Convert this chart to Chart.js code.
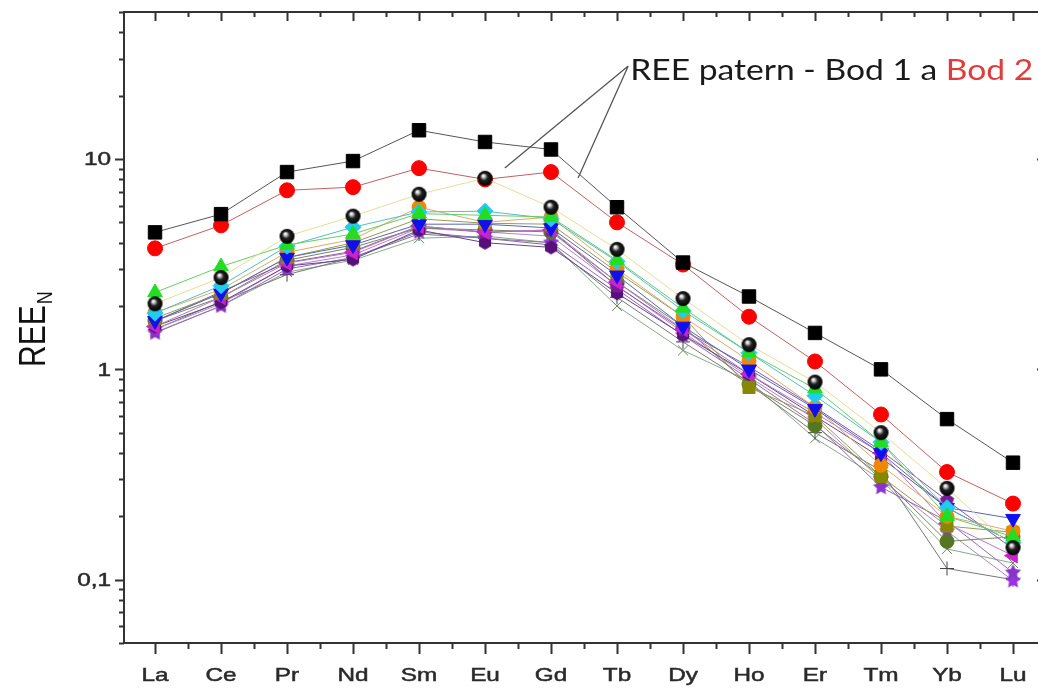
<!DOCTYPE html>
<html>
<head>
<meta charset="utf-8">
<script src="https://cdn.jsdelivr.net/npm/chart.js@4.4.1/dist/chart.umd.min.js"></script>
<style>
  html, body { margin: 0; padding: 0; background: #fff; overflow: hidden; }
  #wrap { position: relative; width: 1060px; height: 688px; }
</style>
</head>
<body>
<div id="wrap"><canvas id="ree" width="1060" height="688"></canvas></div>
<script>
// chondrite-normalised REE, one array per sample
const elements = ['La', 'Ce', 'Pr', 'Nd', 'Sm', 'Eu', 'Gd', 'Tb', 'Dy', 'Ho', 'Er', 'Tm', 'Yb', 'Lu'];
const yTickValues = [0.1, 1, 10];
const yTickLabels = ['0,1', '1', '10'];

const blackSquare    = [4.48, 5.47, 8.67, 9.78, 13.7, 12.05, 11.1, 5.9, 3.22, 2.22, 1.49, 1.0, 0.58, 0.36];
const redCircle      = [3.76, 4.84, 7.1, 7.35, 9.05, 8.0, 8.67, 5.0, 3.15, 1.78, 1.09, 0.61, 0.325, 0.23];
const darkBall       = [2.05, 2.73, 4.29, 5.35, 6.8, 8.1, 5.9, 3.72, 2.17, 1.31, 0.87, 0.5, 0.272, 0.142];
const greenUp        = [2.32, 3.08, 3.9, 4.4, 5.5, 5.4, 5.3, 3.3, 1.96, 1.2, 0.81, 0.45, 0.2, 0.16];
const cyanDiamond    = [1.85, 2.5, 3.85, 4.74, 5.6, 5.65, 5.2, 3.26, 1.9, 1.2, 0.75, 0.45, 0.22, 0.15];
const blueDown       = [1.7, 2.3, 3.4, 3.9, 4.9, 4.9, 4.7, 2.8, 1.6, 1.0, 0.65, 0.4, 0.22, 0.195];
const orangeCircle   = [1.86, 2.4, 3.6, 4.15, 5.9, 5.0, 5.3, 3.0, 1.78, 1.1, 0.66, 0.35, 0.2, 0.17];
const oliveSquare    = [1.75, 2.3, 3.4, 4.0, 5.2, 4.95, 4.9, 2.9, 1.78, 0.82, 0.6, 0.31, 0.18, 0.168];
const magentaLeft    = [1.6, 2.2, 3.2, 3.6, 4.8, 4.5, 4.6, 2.6, 1.55, 0.95, 0.62, 0.4, 0.185, 0.13];
const purplePentagon = [1.69, 2.34, 3.22, 3.64, 4.8, 4.48, 4.6, 2.48, 1.54, 1.03, 0.66, 0.41, 0.238, 0.14];
const violetHexagon  = [1.6, 2.08, 3.1, 3.33, 4.6, 4.0, 3.8, 2.3, 1.46, 0.95, 0.6, 0.38, 0.22, 0.15];
const greenCircle    = [1.7, 2.2, 3.3, 3.8, 4.7, 4.6, 4.5, 2.6, 1.6, 0.85, 0.54, 0.31, 0.152, 0.16];
const purpleStarA    = [1.49, 2.0, 3.0, 3.4, 4.5, 4.2, 4.0, 2.4, 1.45, 0.9, 0.55, 0.275, 0.19, 0.108];
const purpleStarB    = [1.55, 2.05, 3.1, 3.5, 4.7, 4.5, 4.3, 2.5, 1.5, 0.92, 0.58, 0.3, 0.17, 0.099];
const grayPlus       = [1.55, 2.1, 2.82, 3.4, 4.4, 4.2, 3.9, 2.2, 1.35, 0.85, 0.5, 0.33, 0.113, 0.1];
const grayX          = [1.5, 2.0, 2.9, 3.3, 4.2, 4.3, 4.0, 2.0, 1.23, 0.88, 0.47, 0.3, 0.14, 0.12];

// little bitmaps for the markers Chart.js has no shape for
function marker(shape, color, d) {
    const c = document.createElement('canvas');
    c.width = c.height = d + 2;
    const g = c.getContext('2d');
    const cx = (d + 2) / 2, r = d / 2;
    g.fillStyle = color;
    g.beginPath();
    if (shape === 'ball') {
        const grad = g.createRadialGradient(cx - r * 0.25, cx - r * 0.35, 0.5, cx, cx, r);
        grad.addColorStop(0, '#ffffff');
        grad.addColorStop(0.18, '#bbbbbb');
        grad.addColorStop(0.45, '#222222');
        grad.addColorStop(1, '#000000');
        g.fillStyle = grad;
        g.arc(cx, cx, r, 0, Math.PI * 2);
    } else if (shape === 'star') {
        for (let i = 0; i < 10; i++) {
            const a = -Math.PI / 2 + i * Math.PI / 5;
            const rr = i % 2 ? r * 0.5 : r;
            g.lineTo(cx + rr * Math.cos(a), cx + rr * Math.sin(a));
        }
    } else {
        const n = shape === 'pentagon' ? 5 : 6;
        for (let i = 0; i < n; i++) {
            const a = -Math.PI / 2 + i * 2 * Math.PI / n;
            g.lineTo(cx + r * Math.cos(a), cx + r * Math.sin(a));
        }
    }
    g.closePath();
    g.fill();
    return c;
}

const series = [
    { data: blackSquare,    color: '#000000', line: '#555555', style: 'rect', r: 9.5 },
    { data: darkBall,       color: '#000000', line: '#e8dc9a', style: marker('ball', '#000', 15) },
    { data: redCircle,      color: '#ff0000', line: '#c06060', style: 'circle', r: 7.5 },
    { data: greenUp,        color: '#22dd22', line: '#66cc66', style: 'triangle', r: 8.5 },
    { data: cyanDiamond,    color: '#22ccee', line: '#55bbcc', style: 'rectRot', r: 8 },
    { data: blueDown,       color: '#1010ee', line: '#5566bb', style: 'triangle', r: 8.5, rot: 180 },
    { data: orangeCircle,   color: '#ee8800', line: '#ddaa66', style: 'circle', r: 7 },
    { data: oliveSquare,    color: '#888800', line: '#999955', style: 'rect', r: 8.5 },
    { data: magentaLeft,    color: '#cc22cc', line: '#bb77bb', style: 'triangle', r: 8.5, rot: 270 },
    { data: purplePentagon, color: '#7a1a9a', line: '#8855aa', style: marker('pentagon', '#7a1a9a', 15) },
    { data: violetHexagon,  color: '#551177', line: '#664488', style: marker('hexagon', '#551177', 14) },
    { data: greenCircle,    color: '#557722', line: '#778855', style: 'circle', r: 7 },
    { data: purpleStarA,    color: '#8833cc', line: '#9966bb', style: marker('star', '#8833cc', 17) },
    { data: purpleStarB,    color: '#9933dd', line: '#aa88cc', style: marker('star', '#9933dd', 17) },
    { data: grayPlus,       color: '#444444', line: '#777777', style: 'cross', r: 7 },
    { data: grayX,          color: '#668866', line: '#88aa88', style: 'crossRot', r: 7 }
];

const datasets = series.map(s => ({
    data: s.data.map((v, i) => ({ x: i, y: v })),
    borderColor: s.line,
    borderWidth: 1,
    pointStyle: s.style,
    pointRadius: s.r || 8,
    pointRotation: s.rot || 0,
    pointBackgroundColor: s.color,
    pointBorderColor: s.color,
    pointBorderWidth: 1,
    tension: 0,
    clip: false
}));

// text squeezed/stretched horizontally, drawn slightly heavy
function textStretched(ctx, text, x, y, sx, align) {
    ctx.save();
    ctx.translate(x, y);
    ctx.scale(sx, 1);
    ctx.textAlign = align;
    ctx.fillText(text, 0, 0);
    ctx.lineWidth = 0.5;
    ctx.strokeStyle = ctx.fillStyle;
    ctx.strokeText(text, 0, 0);
    ctx.restore();
}

const framePlugin = {
    id: 'frame',
    afterDraw(chart) {
        const { ctx, chartArea: a } = chart;
        const x = chart.scales.x, y = chart.scales.y;
        ctx.save();
        ctx.strokeStyle = '#333';
        ctx.lineWidth = 2;
        ctx.strokeRect(a.left, a.top, a.right - a.left, a.bottom - a.top);

        // category ticks, bottom outward and top inward
        ctx.beginPath();
        for (let i = 0; i < elements.length; i++) {
            const px = Math.round(x.getPixelForValue(i)) + 0.5;
            ctx.moveTo(px, a.bottom); ctx.lineTo(px, a.bottom + 11);
            ctx.moveTo(px, a.top); ctx.lineTo(px, a.top + 9);
        }
        for (let i = -0.5; i < elements.length; i += 1) {
            const px = Math.round(x.getPixelForValue(i)) + 0.5;
            if (px <= a.left + 2 || px >= a.right - 2) continue;
            ctx.moveTo(px, a.bottom); ctx.lineTo(px, a.bottom + 6);
            ctx.moveTo(px, a.top); ctx.lineTo(px, a.top + 5);
        }
        ctx.stroke();

        // log ticks, left outward and right inward
        ctx.beginPath();
        for (let d = -2; d <= 1; d++) {
            for (let m = 1; m <= 9; m++) {
                const v = m * Math.pow(10, d);
                if (v < y.min || v > y.max) continue;
                const py = Math.round(y.getPixelForValue(v)) + 0.5;
                const len = m === 1 ? 9 : 5;
                ctx.moveTo(a.left, py); ctx.lineTo(a.left - len, py);
                ctx.moveTo(a.right, py); ctx.lineTo(a.right - len, py);
            }
        }
        ctx.stroke();

        // tick labels
        ctx.fillStyle = '#2a2a2a';
        ctx.font = '19px "Liberation Sans", Arial, sans-serif';
        ctx.textBaseline = 'alphabetic';
        elements.forEach((el, i) => textStretched(ctx, el, x.getPixelForValue(i), 681, 1.28, 'center'));
        ctx.textBaseline = 'middle';
        yTickValues.forEach((v, i) => textStretched(ctx, yTickLabels[i], a.left - 13, y.getPixelForValue(v) + 1, 1.28, 'right'));

        // axis title REE with subscript N
        ctx.save();
        ctx.fillStyle = '#111';
        ctx.translate(45, 367);
        ctx.scale(1.2, 1);
        ctx.rotate(-Math.PI / 2);
        ctx.textBaseline = 'alphabetic';
        ctx.textAlign = 'left';
        ctx.font = '30px "Liberation Sans", Arial, sans-serif';
        ctx.fillText('REE', 0, 0);
        const w = ctx.measureText('REE').width;
        ctx.font = '18px "Liberation Sans", Arial, sans-serif';
        ctx.fillText('N', w + 1, 6);
        ctx.restore();

        // pointer lines and caption
        const p0 = [x.getPixelForValue(7.17), y.getPixelForValue(27.7)];
        const p1 = [x.getPixelForValue(5.30), y.getPixelForValue(9.07)];
        const p2 = [x.getPixelForValue(6.41), y.getPixelForValue(8.13)];
        ctx.strokeStyle = '#555';
        ctx.lineWidth = 1.3;
        ctx.beginPath();
        ctx.moveTo(p0[0], p0[1]); ctx.lineTo(p1[0], p1[1]);
        ctx.moveTo(p0[0], p0[1]); ctx.lineTo(p2[0], p2[1]);
        ctx.stroke();

        const partA = 'REE patern - Bod 1 a ', partB = 'Bod 2';
        ctx.font = '29px Lato, "Open Sans", sans-serif';
        ctx.textBaseline = 'alphabetic';
        ctx.textAlign = 'left';
        const wa = ctx.measureText(partA).width, wb = ctx.measureText(partB).width;
        const sx = 403 / (wa + wb);
        ctx.save();
        ctx.translate(p0[0] + 2, 80);
        ctx.scale(sx, 1);
        ctx.fillStyle = '#1a1a1a';
        ctx.fillText(partA, 0, 0);
        ctx.fillStyle = '#e23b3b';
        ctx.fillText(partB, wa, 0);
        ctx.restore();
        ctx.restore();
    }
};

new Chart(document.getElementById('ree'), {
    type: 'line',
    data: { datasets: datasets },
    options: {
        responsive: false,
        animation: false,
        devicePixelRatio: 1,
        layout: { padding: { left: 124, top: 12, right: 14, bottom: 45 } },
        scales: {
            x: { type: 'linear', min: -0.47, max: 13.5, display: false },
            y: { type: 'logarithmic', min: 0.05, max: 50, display: false }
        },
        plugins: { legend: { display: false }, tooltip: { enabled: false } }
    },
    plugins: [framePlugin]
});
</script>
</body>
</html>
